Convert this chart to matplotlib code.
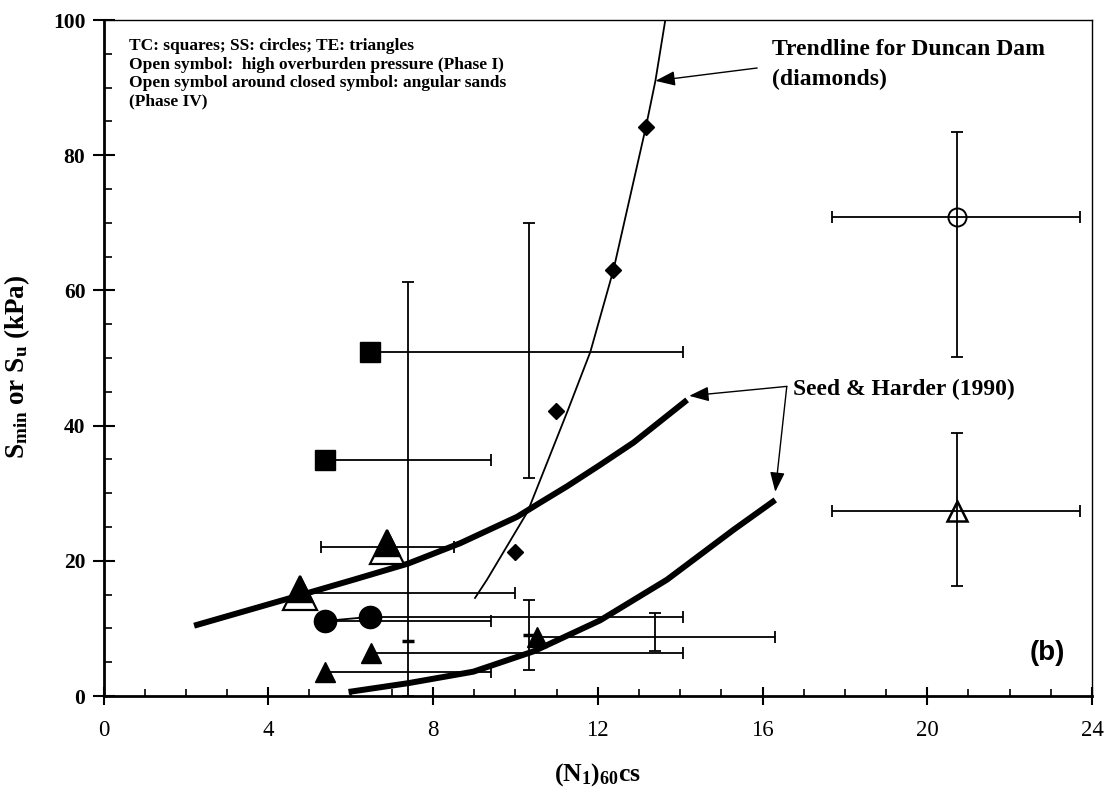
import matplotlib
matplotlib.use('Agg')
import matplotlib.pyplot as plt
import matplotlib.transforms as mtransforms
from matplotlib.ticker import MultipleLocator

plt.rcParams['mathtext.fontset'] = 'custom'
plt.rcParams['mathtext.rm'] = 'Liberation Serif:bold'
plt.rcParams['mathtext.it'] = 'Liberation Serif:italic:bold'
plt.rcParams['mathtext.bf'] = 'Liberation Serif:bold'

# ---------------- data ----------------
# TC: squares (closed)
tc_x = [6.47, 5.38]
tc_y = [50.9, 34.9]
tc_xhigh = [14.08, 9.40]
# SS: circles (closed)
ss_x = [5.38, 6.47]
ss_y = [11.1, 11.7]
ss_xhigh = [9.40, 14.08]
# TE: triangles (closed)
te_x = [5.38, 6.49, 10.52]
te_y = [3.5, 6.4, 8.8]
te_xhigh = [9.40, 14.08, 16.31]
# TE angular sands (open around closed triangles, Phase IV)
ang_x = [4.77, 6.88]
ang_y = [15.3, 22.1]
ang_xlow = [4.77, 5.27]
ang_xhigh = [9.99, 8.51]
# Phase I: open circle and open triangle
p1_x = [20.72, 20.72]
p1_y = [70.9, 27.3]
p1_xlow = [17.69, 17.69]
p1_xhigh = [23.72, 23.70]
p1_ylow = [50.1, 16.3]
p1_yhigh = [83.5, 38.9]
# stand-alone vertical ranges
vbar_x = [7.40, 10.32, 10.32, 13.40]
vbar_ylow = [0.0, 32.3, 3.9, 6.6]
vbar_yhigh = [61.3, 69.9, 14.2, 12.3]
vbar_mid_x = [7.40, 10.32]
vbar_mid_y = [8.2, 9.0]
# Duncan Dam diamonds and trendline
dd_x = [10.00, 10.99, 12.38, 13.17]
dd_y = [21.3, 42.1, 63.0, 84.2]
trend_x = [9.02, 9.31, 10.30, 11.27, 11.82, 12.38, 13.17, 13.40, 13.64]
trend_y = [14.5, 17.2, 27.3, 42.2, 50.9, 63.0, 84.2, 91.0, 100.0]
# Seed & Harder (1990) curves
sh_up_x = [2.2, 4.77, 6.07, 7.40, 8.66, 10.04, 10.60, 11.25, 12.06, 12.87, 14.17]
sh_up_y = [10.4, 14.9, 17.2, 19.6, 22.6, 26.5, 28.6, 31.0, 34.2, 37.5, 43.8]
sh_lo_x = [5.95, 7.40, 8.98, 10.44, 12.06, 13.68, 15.30, 16.31]
sh_lo_y = [0.6, 1.9, 3.6, 6.6, 11.2, 17.2, 24.6, 29.0]

x_ticks = [0, 4, 8, 12, 16, 20, 24]
y_ticks = [0, 20, 40, 60, 80, 100]

legend_lines = ["TC: squares; SS: circles; TE: triangles",
                "Open symbol:  high overburden pressure (Phase I)",
                "Open symbol around closed symbol: angular sands",
                "(Phase IV)"]

# ---------------- figure ----------------
SERIF = 'Liberation Serif'
fig = plt.figure(figsize=(11.13, 7.87), dpi=100)
ax = fig.add_axes([103.5 / 1113, 91 / 787, 988.5 / 1113, 676 / 787])
ax.set_xlim(0, 24)
ax.set_ylim(0, 100)

eb = dict(fmt='none', ecolor='black', elinewidth=1.3, capsize=4, capthick=1.3, zorder=2)


def hbars(xs, ys, xlo, xhi):
    ax.errorbar(xs, ys, xerr=[[x - l for x, l in zip(xs, xlo)],
                              [h - x for x, h in zip(xs, xhi)]], **eb)


hbars(tc_x, tc_y, tc_x, tc_xhigh)
hbars(ss_x, ss_y, ss_x, ss_xhigh)
hbars(te_x, te_y, te_x, te_xhigh)
hbars(ang_x, ang_y, ang_xlow, ang_xhigh)
ax.plot([ss_x[0], ss_x[1]], [ss_y[0], ss_y[1]], color='black', lw=1.3, zorder=2)

# vertical ranges
vc = [(l + h) / 2 for l, h in zip(vbar_ylow, vbar_yhigh)]
ve = [(h - l) / 2 for l, h in zip(vbar_ylow, vbar_yhigh)]
ax.errorbar(vbar_x, vc, yerr=ve, **eb)
ax.plot(vbar_mid_x, vbar_mid_y, ls='none', marker='_', ms=9, mew=2.5, color='black', zorder=2)

# phase I open symbols
ax.errorbar(p1_x, p1_y,
            xerr=[[x - l for x, l in zip(p1_x, p1_xlow)], [h - x for x, h in zip(p1_x, p1_xhigh)]],
            yerr=[[y - l for y, l in zip(p1_y, p1_ylow)], [h - y for y, h in zip(p1_y, p1_yhigh)]],
            **eb)
ax.plot(p1_x[0], p1_y[0], ls='none', marker='o', ms=13, mfc='none', mec='black', mew=1.4, zorder=4)
ax.plot(p1_x[1], p1_y[1], ls='none', marker='^', ms=15, mfc='none', mec='black', mew=1.8, zorder=4)

# curves
ax.plot(sh_up_x, sh_up_y, color='black', lw=4.3, solid_capstyle='butt', solid_joinstyle='round', zorder=3)
ax.plot(sh_lo_x, sh_lo_y, color='black', lw=4.3, solid_capstyle='butt', solid_joinstyle='round', zorder=3)
ax.plot(trend_x, trend_y, color='black', lw=1.3, solid_joinstyle='round', zorder=3)

# markers
ax.plot(tc_x, tc_y, ls='none', marker='s', ms=15, color='black', zorder=5)
ax.plot(ss_x, ss_y, ls='none', marker='o', ms=16, color='black', zorder=5)
ax.plot(te_x, te_y, ls='none', marker='^', ms=15, color='black', zorder=5)
ax.plot(ang_x, ang_y, ls='none', marker='^', ms=24, mfc='white', mec='black', mew=1.6, zorder=5)
up = ax.transData + mtransforms.ScaledTranslation(0, 2.5 / 72, fig.dpi_scale_trans)
ax.plot(ang_x, ang_y, ls='none', marker='^', ms=19, color='black', zorder=6, transform=up)
ax.plot(dd_x, dd_y, ls='none', marker='D', ms=8, color='black', zorder=5)

# annotations
ap = dict(arrowstyle='-|>,head_length=0.8,head_width=0.3', color='black', lw=1.0,
          mutation_scale=15, shrinkA=0, shrinkB=0)
ax.annotate('', xy=(13.40, 91.0), xytext=(15.87, 92.9), arrowprops=ap, zorder=6)
ax.annotate('', xy=(14.22, 44.4), xytext=(16.59, 45.8), arrowprops=ap, zorder=6)
ax.annotate('', xy=(16.31, 30.2), xytext=(16.59, 45.8), arrowprops=ap, zorder=6)

ax.text(16.23, 94.8, 'Trendline for Duncan Dam', fontsize=17, fontweight='bold',
        family=SERIF, va='baseline', ha='left')
ax.text(16.23, 90.4, '(diamonds)', fontsize=17, fontweight='bold',
        family=SERIF, va='baseline', ha='left')
ax.text(16.75, 44.5, 'Seed & Harder (1990)', fontsize=17, fontweight='bold',
        family=SERIF, va='baseline', ha='left')
for i, line in enumerate(legend_lines):
    ax.text(0.63, 95.5 - i * 2.7, line, fontsize=12.5, fontweight='bold',
            family=SERIF, va='baseline', ha='left')
ax.text(22.92, 6.4, '(b)', fontsize=20, fontweight='bold', family='Liberation Sans',
        ha='center', va='center')

# axes styling
for s in ['left', 'bottom']:
    ax.spines[s].set_linewidth(2.0)
for s in ['top', 'right']:
    ax.spines[s].set_linewidth(1.0)
ax.set_xticks(x_ticks)
ax.set_xticklabels([str(t) for t in x_ticks], family=SERIF, fontsize=16.5)
ax.set_yticks(y_ticks)
ax.set_yticklabels([str(t) for t in y_ticks], family=SERIF, fontsize=15.5, fontweight='bold')
ax.xaxis.set_minor_locator(MultipleLocator(1))
ax.yaxis.set_minor_locator(MultipleLocator(5))
ax.tick_params(axis='x', which='major', direction='inout', length=13, width=1.5, pad=11)
ax.tick_params(axis='x', which='minor', direction='in', length=5, width=1.2)
ax.tick_params(axis='y', which='major', direction='inout', length=16, width=1.5, pad=5)
ax.tick_params(axis='y', which='minor', direction='in', length=6, width=1.2)

ax.set_xlabel('(N$_1$)$_{60}$cs', fontsize=18.5, fontweight='bold', family=SERIF)
ax.xaxis.set_label_coords(0.5, -0.097)
ax.set_ylabel('S$_{\\mathrm{min}}$ or S$_{\\mathrm{u}}$ (kPa)', fontsize=19.5, fontweight='bold', family=SERIF)
ax.yaxis.set_label_coords(-0.072, 0.487)

fig.savefig('out.png', dpi=100)
